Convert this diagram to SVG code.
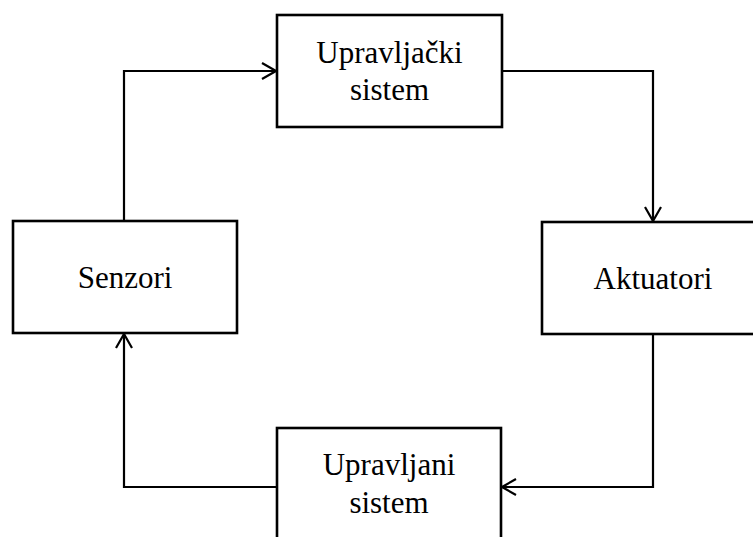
<svg xmlns="http://www.w3.org/2000/svg" width="753" height="537" viewBox="0 0 753 537">
<defs>
<marker id="arr" viewBox="0 0 16 18" refX="15" refY="9" markerWidth="16" markerHeight="18" markerUnits="userSpaceOnUse" orient="auto">
<path d="M1,1 L15,9 L1,17" fill="none" stroke="#000" stroke-width="2.2"/>
</marker>
<style>
.box{fill:#fff;stroke:#000;stroke-width:2.6}
.lbl{font-family:"Liberation Serif","Times New Roman",serif;font-size:31px;fill:#000;text-anchor:middle}
.con{fill:none;stroke:#000;stroke-width:2.2;marker-end:url(#arr)}
</style>
</defs>
<rect width="753" height="537" fill="#fff"/>
<g id="connectors">
<path class="con" d="M124,221 V71 H276"/>
<path class="con" d="M502,71 H653 V221"/>
<path class="con" d="M653,334 V487 H502"/>
<path class="con" d="M277,487 H124 V334"/>
</g>
<g id="upravljacki">
<rect class="box" x="277" y="15" width="225" height="112"/>
<text class="lbl" x="389.5" y="63">Upravljački</text>
<text class="lbl" x="389.5" y="100">sistem</text>
</g>
<g id="aktuatori">
<rect class="box" x="542" y="222" width="223" height="112"/>
<text class="lbl" x="653" y="289">Aktuatori</text>
</g>
<g id="senzori">
<rect class="box" x="13" y="221" width="224" height="112"/>
<text class="lbl" x="125" y="288">Senzori</text>
</g>
<g id="upravljani">
<rect class="box" x="277" y="428" width="224" height="120"/>
<text class="lbl" x="389" y="475">Upravljani</text>
<text class="lbl" x="389" y="513">sistem</text>
</g>
</svg>
